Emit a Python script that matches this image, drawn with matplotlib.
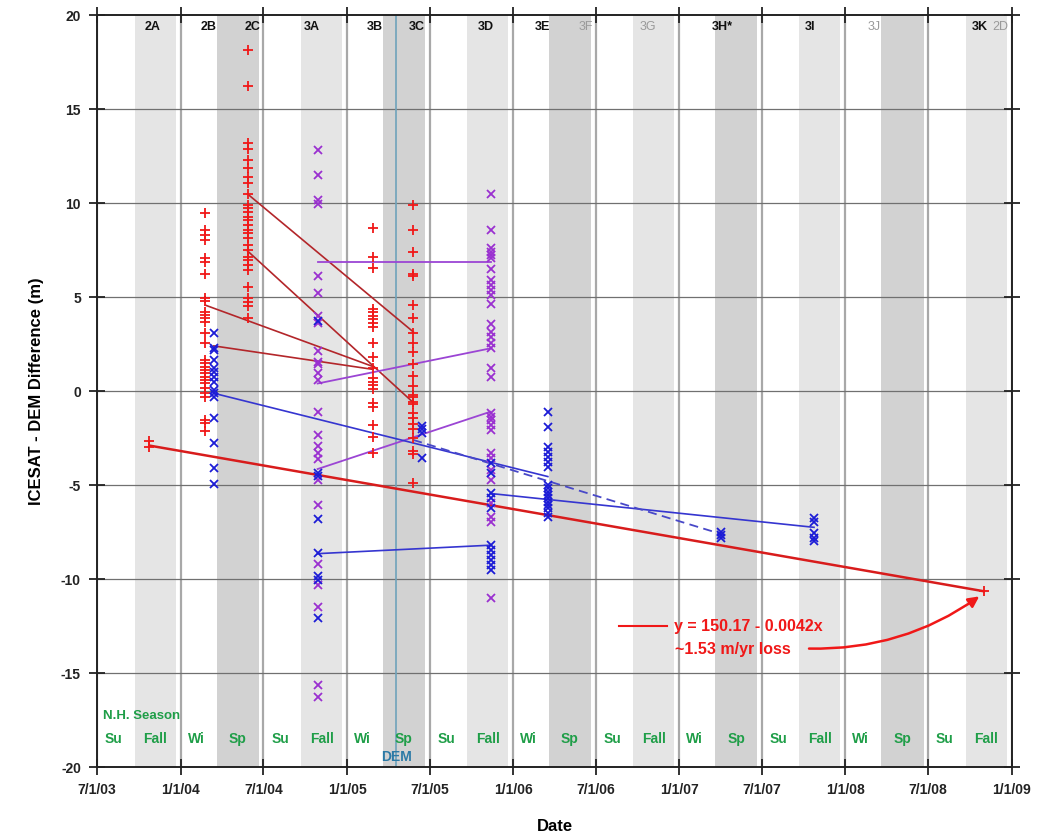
import numpy as np
import pandas as pd
import matplotlib
matplotlib.use('Agg')
import matplotlib.pyplot as plt
import matplotlib.dates as mdates

plt.rcParams['font.family'] = ['Liberation Sans', 'DejaVu Sans']
plt.rcParams['font.weight'] = 'bold'
plt.rcParams['axes.unicode_minus'] = False

# ---- data ----
# red + : ICESat minus DEM, campaign dates
d_2a = "2003-10-24"; v_2a = [-2.65, -3.0]
d_2b = "2004-02-24"
v_2b = [9.45, 8.56, 8.30, 8.03, 7.06, 6.88, 6.2, 4.93, 4.80, 4.22, 4.04, 3.87, 3.69,
        3.07, 2.54, 1.65, 1.47, 1.29, 1.12, 0.94, 0.76, 0.59, 0.41, 0.14, -0.12,
        -0.34, -1.54, -1.72, -2.11]
d_2c = "2004-05-27"
v_2c = [18.15, 16.2, 13.2, 12.85, 12.3, 11.85, 11.4, 11.05, 10.48, 9.89, 9.72, 9.54,
        9.27, 9.10, 8.83, 8.56, 8.39, 8.12, 7.77, 7.50, 7.14, 6.97, 6.70, 6.44,
        5.55, 4.93, 4.75, 4.52, 3.87]
d_3b = "2005-02-27"
v_3b = [8.66, 7.14, 6.57, 4.38, 4.19, 4.00, 3.81, 3.62, 3.43, 2.58, 1.82, 1.25,
        0.68, 0.49, 0.30, 0.11, -0.65, -0.84, -1.79, -2.45, -3.31]
d_3c = "2005-05-26"
v_3c = [9.89, 8.56, 7.41, 6.24, 6.10, 4.56, 3.86, 3.10, 2.53, 2.05, 1.44, 0.82,
        0.25, -0.23, -0.32, -0.61, -0.70, -1.18, -1.46, -1.75, -2.03, -2.51,
        -3.17, -3.37, -4.89]
d_3k = "2008-10-31"; v_3k = [-10.65]

# blue / purple x
d_2b_x = "2004-03-14"
b_2b = [3.10, 2.27, 2.18, 1.65, 1.21, 1.03, 0.76, 0.50, 0.05, -0.12, -0.30,
        -1.45, -2.78, -4.11, -4.95]
d_3a = "2004-10-28"
b_3a = [3.75, -4.35, -4.54, -6.82, -8.63, -9.86, -10.05, -12.05]
p_3a = [12.80, 11.47, 10.14, 9.95, 6.10, 5.24, 4.00, 3.62, 2.11, 1.54, 1.44, 0.96,
        0.58, -1.12, -2.36, -2.93, -3.31, -3.60, -4.73, -6.06, -9.20, -10.34,
        -11.48, -15.66, -16.3]
d_3c_x = "2005-06-15"
b_3c = [-1.84, -2.03, -2.22, -3.56]
d_3d = "2005-11-12"
p_3d = [10.48, 8.56, 7.59, 7.41, 7.23, 7.06, 6.47, 5.90, 5.64, 5.37, 5.11, 4.63,
        3.56, 3.16, 2.89, 2.54, 2.27, 1.21, 0.76, -1.19, -1.37, -1.54, -1.81,
        -2.07, -3.31, -3.58, -4.20, -4.73, -5.97, -6.68, -6.95, -11.03]
b_3d = [-3.85, -4.38, -5.44, -5.71, -6.24, -8.19, -8.46, -8.72, -8.99, -9.26, -9.52]
d_3e = "2006-03-18"
b_3e = [-1.10, -1.90, -2.96, -3.23, -3.49, -3.76, -4.03, -5.00, -5.18, -5.35,
        -5.53, -5.71, -5.89, -6.06, -6.24, -6.51, -6.68]
d_3h = "2007-04-02"; b_3h = [-7.5, -7.65, -7.8]
d_3i = "2007-10-24"; b_3i = [-6.75, -6.95, -7.55, -7.8, -8.0]

# connecting lines: (date0, value0, date1, value1)
red_seg = [(d_2c, 10.48, d_3c, 3.15), (d_2c, 7.45, d_3c, -0.61),
           (d_2b, 4.57, d_3b, 1.3), (d_2b_x, 2.4, d_3b, 1.15)]
purple_seg = [(d_3a, 6.85, d_3d, 6.85), (d_3a, 0.40, d_3d, 2.27),
              (d_3a, -4.15, d_3d, -1.1)]
blue_seg = [(d_2b_x, -0.12, d_3e, -4.55), (d_3a, -8.65, d_3d, -8.2),
            (d_3d, -5.45, d_3i, -7.25)]
blue_dash = [(d_3c, -2.6, d_3h, -7.6)]
trend = (d_2a, -2.9, d_3k, -10.65)

# season shading and labels
fall_bands = [("2003-09-22", "2003-12-21"), ("2004-09-22", "2004-12-21"),
              ("2005-09-22", "2005-12-21"), ("2006-09-22", "2006-12-21"),
              ("2007-09-22", "2007-12-21"), ("2008-09-22", "2008-12-21")]
spring_bands = [("2004-03-20", "2004-06-21"), ("2005-03-20", "2005-06-21"),
                ("2006-03-20", "2006-06-21"), ("2007-03-20", "2007-06-21"),
                ("2008-03-20", "2008-06-21")]
season_edges = ["2003-06-21"]
for yr in range(2003, 2009):
    season_edges += [f"{yr}-09-22", f"{yr}-12-21", f"{yr+1}-03-20", f"{yr+1}-06-21"]
season_edges = season_edges[:-2]
season_names = ["Su", "Fall", "Wi", "Sp"]

campaigns = ["2A", "2B", "2C", "3A", "3B", "3C", "3D", "3E", "3F", "3G", "3H*",
             "3I", "3J", "3K", "2D"]
campaign_dates = ["2003-11-01", "2004-03-03", "2004-06-07", "2004-10-15",
                  "2005-03-03", "2005-06-03", "2005-11-01", "2006-03-07",
                  "2006-06-09", "2006-10-24", "2007-04-05", "2007-10-15",
                  "2008-03-04", "2008-10-22", "2008-12-07"]
campaign_used = [1, 1, 1, 1, 1, 1, 1, 1, 0, 0, 1, 1, 0, 1, 0]

tick_dates = ["2003-07-01", "2004-01-01", "2004-07-01", "2005-01-01", "2005-07-01",
              "2006-01-01", "2006-07-01", "2007-01-01", "2007-07-01", "2008-01-01",
              "2008-07-01", "2009-01-01"]
tick_labels = ["7/1/03", "1/1/04", "7/1/04", "1/1/05", "7/1/05", "1/1/06",
               "7/1/06", "1/1/07", "7/1/07", "1/1/08", "7/1/08", "1/1/09"]
dem_date = "2005-04-19"


def dn(s):
    return mdates.date2num(pd.Timestamp(s))


RED = '#f01818'
PURPLE = '#9a30d0'
BLUE = '#1c1cd6'
GREEN = '#1f9e48'

fig = plt.figure(figsize=(10.38, 8.34), dpi=100)
ax = fig.add_axes([0.0934, 0.0803, 0.8815, 0.9017])

for a, b in fall_bands:
    ax.axvspan(dn(a), dn(b), color='#e5e5e5', lw=0, zorder=0)
for a, b in spring_bands:
    ax.axvspan(dn(a), dn(b), color='#d2d2d2', lw=0, zorder=0)

for t in tick_dates:
    ax.axvline(dn(t), color='#a8a8a8', lw=1.6, zorder=1)
for yv in range(-15, 20, 5):
    ax.axhline(yv, color='#707070', lw=0.9, zorder=1)

ax.axvline(dn(dem_date), color='#6fa3bb', lw=1.2, zorder=2)

# connecting lines
for d0, v0, d1, v1 in red_seg:
    ax.plot([dn(d0), dn(d1)], [v0, v1], color='#b3262a', lw=1.2, zorder=3)
for d0, v0, d1, v1 in purple_seg:
    ax.plot([dn(d0), dn(d1)], [v0, v1], color='#9b45d4', lw=1.3, zorder=3)
for d0, v0, d1, v1 in blue_seg:
    ax.plot([dn(d0), dn(d1)], [v0, v1], color='#3535d0', lw=1.2, zorder=3)
for d0, v0, d1, v1 in blue_dash:
    ax.plot([dn(d0), dn(d1)], [v0, v1], color='#4848c8', lw=1.3, ls=(0, (5, 3)), zorder=3)
ax.plot([dn(trend[0]), dn(trend[2])], [trend[1], trend[3]], color='#d81c1c', lw=1.8, zorder=3)

# markers
for d, vals in [(d_2a, v_2a), (d_2b, v_2b), (d_2c, v_2c), (d_3b, v_3b),
                (d_3c, v_3c), (d_3k, v_3k)]:
    ax.plot([dn(d)] * len(vals), vals, ls='none', marker='+', color=RED,
            ms=7, mew=1.3, zorder=4)
for d, vals in [(d_3a, p_3a), (d_3d, p_3d)]:
    ax.plot([dn(d)] * len(vals), vals, ls='none', marker='x', color=PURPLE,
            ms=5.5, mew=1.3, zorder=4)
for d, vals in [(d_2b_x, b_2b), (d_3a, b_3a), (d_3c_x, b_3c), (d_3d, b_3d),
                (d_3e, b_3e), (d_3h, b_3h), (d_3i, b_3i)]:
    ax.plot([dn(d)] * len(vals), vals, ls='none', marker='x', color=BLUE,
            ms=5.5, mew=1.3, zorder=4)

# campaign labels at top
for name, d, used in zip(campaigns, campaign_dates, campaign_used):
    ax.text(dn(d), 19.35, name, ha='center', va='center', fontsize=9,
            color='#111111' if used else '#9a9a9a',
            fontweight='bold' if used else 'normal', zorder=5)

# season labels at bottom
for i in range(len(season_edges) - 1):
    mid = (dn(season_edges[i]) + dn(season_edges[i + 1])) / 2
    ax.text(mid, -18.5, season_names[i % 4], ha='center', va='center',
            fontsize=10, color=GREEN, fontweight='bold', zorder=5)
ax.text(dn("2003-07-15"), -17.3, "N.H. Season", ha='left', va='center',
        fontsize=9.5, color=GREEN, fontweight='bold', zorder=5)
ax.text(dn(dem_date), -19.45, "DEM", ha='center', va='center', fontsize=10,
        color='#2b7aa6', fontweight='bold', zorder=5)

# trend annotation
ax.plot([dn("2006-08-22"), dn("2006-12-05")], [-12.5, -12.5], color=RED, lw=1.5)
ax.text(dn("2006-12-20"), -12.5, "y = 150.17 - 0.0042x", ha='left', va='center',
        fontsize=11.5, color=RED, fontweight='bold')
ax.text(dn("2006-12-22"), -13.75, "~1.53 m/yr loss", ha='left', va='center',
        fontsize=11.5, color=RED, fontweight='bold')
ax.annotate('', xy=(dn(d_3k), -10.75), xytext=(dn("2007-10-13"), -13.7),
            arrowprops=dict(arrowstyle='-|>', color=RED, lw=1.8, mutation_scale=16,
                            shrinkA=0, shrinkB=4,
                            connectionstyle='arc3,rad=0.17'))

ax.set_xlim(dn(tick_dates[0]), dn(tick_dates[-1]))
ax.set_ylim(-20, 20)
ax.set_xticks([dn(t) for t in tick_dates])
ax.set_xticklabels(tick_labels)
ax.set_yticks(range(-20, 21, 5))
ax.tick_params(direction='inout', length=11, width=1.3, top=True, right=True,
               labelsize=10, colors='#222222', pad=6)
for lab in ax.get_xticklabels() + ax.get_yticklabels():
    lab.set_fontweight('bold')
for sp in ax.spines.values():
    sp.set_linewidth(1.4)
    sp.set_color('#222222')

ax.set_xlabel("Date", fontsize=12, fontweight='bold', labelpad=16)
ax.set_ylabel("ICESAT - DEM Difference (m)", fontsize=12, fontweight='bold', labelpad=12)

fig.savefig("out.png", dpi=100)
